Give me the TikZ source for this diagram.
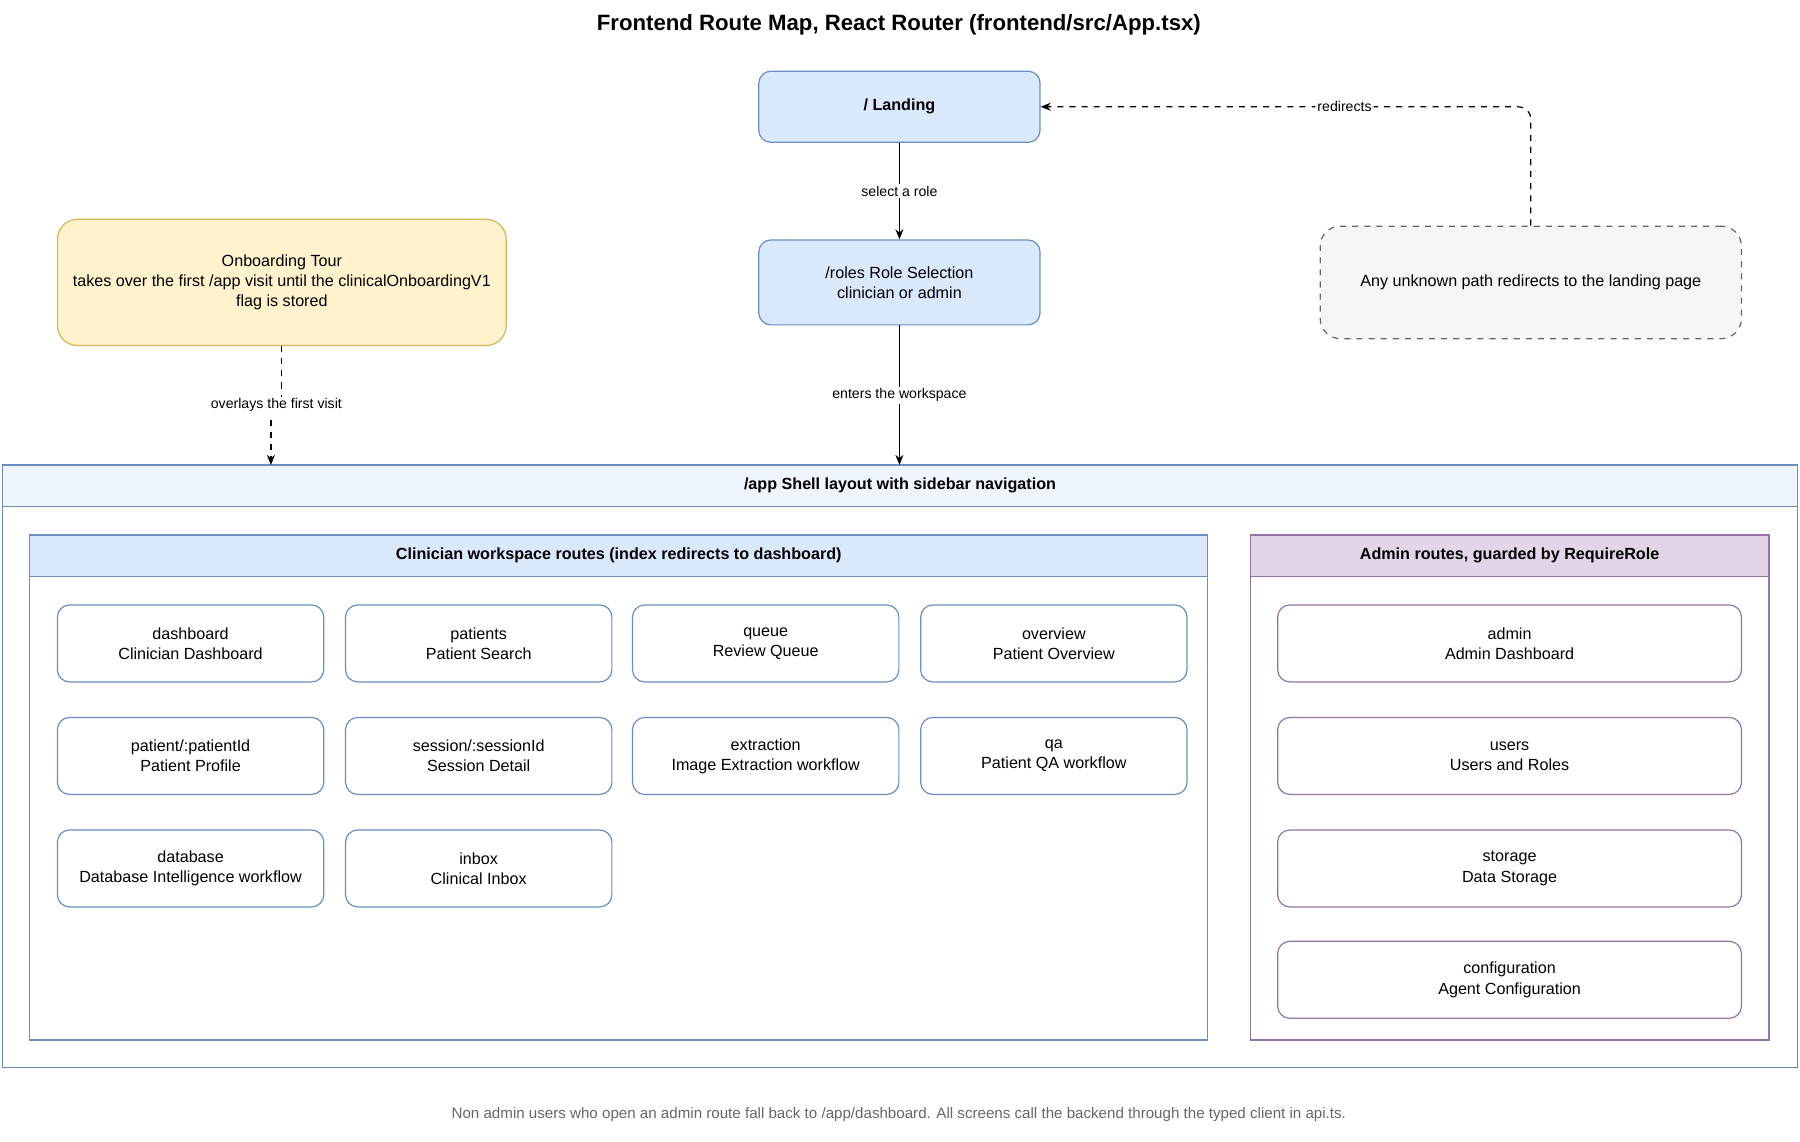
\documentclass[tikz,border=0pt]{standalone}
\usepackage{fontspec}
\setmainfont{Liberation Sans}
\usetikzlibrary{arrows.meta}
\definecolor{bf}{HTML}{DAE8FC}\definecolor{bs}{HTML}{6C8EBF}
\definecolor{pf}{HTML}{E1D5E7}\definecolor{ps}{HTML}{9673A6}
\definecolor{yf}{HTML}{FFF2CC}\definecolor{ys}{HTML}{D6B656}
\definecolor{gf}{HTML}{F5F5F5}\definecolor{gs}{HTML}{666666}
\definecolor{lf}{HTML}{EEF5FD}
\tikzset{
 bx/.style={draw, rounded corners=6pt, align=center, font=\fontsize{8}{10}\selectfont, line width=0.6pt, inner sep=0pt},
 arr/.style={-{Stealth[length=5pt,width=4pt]}, line width=0.6pt},
 lbl/.style={fill=white, inner sep=1pt, font=\fontsize{7}{8}\selectfont},
 hdr/.style={font=\fontsize{8}{10}\selectfont\bfseries}
}
\newcommand{\rbox}[6]{% name, x1,y1,x2,y2, style+text
}
\begin{document}
\begin{tikzpicture}[x=0.02cm,y=-0.02cm]
\useasboundingbox (0,0) rectangle (1568,994);
\node[font=\fontsize{11}{13}\selectfont\bfseries] (title) at (783,22) {Frontend Route Map, React Router (frontend/src/App.tsx)};
% top nodes
\node[bx, fill=bf, draw=bs, minimum width=245*0.02cm, minimum height=62*0.02cm, font=\fontsize{8}{10}\selectfont\bfseries] (land) at (783.5,93) {/ Landing};
\node[bx, fill=bf, draw=bs, minimum width=245*0.02cm, minimum height=74*0.02cm] (roles) at (783.5,246) {/roles Role Selection\\clinician or admin};
\node[bx, fill=gf, draw=gs, dashed, rounded corners=10pt, minimum width=367*0.02cm, minimum height=98*0.02cm] (unk) at (1333.5,246) {Any unknown path redirects to the landing page};
\node[bx, fill=yf, draw=ys, rounded corners=10pt, minimum width=391*0.02cm, minimum height=110*0.02cm] (onb) at (245.5,246) {Onboarding Tour\\takes over the first /app visit until the clinicalOnboardingV1\\flag is stored};
% shell
\draw[bs, line width=0.6pt] (2,405) rectangle (1566,930);
\draw[bs, fill=lf, line width=0.6pt] (2,405) rectangle (1566,441);
\node[hdr] (shell) at (784,423) {/app Shell layout with sidebar navigation};
\coordinate (shelltop) at (783.5,405);
\coordinate (shellin) at (236,405);
% clinician
\draw[bs, line width=0.6pt] (26,466) rectangle (1052,906);
\draw[bs, fill=bf, line width=0.6pt] (26,466) rectangle (1052,502);
\node[hdr] (clin) at (539,484) {Clinician workspace routes (index redirects to dashboard)};
% admin
\draw[ps, line width=0.6pt] (1089,466) rectangle (1541,906);
\draw[ps, fill=pf, line width=0.6pt] (1089,466) rectangle (1541,502);
\node[hdr] (adm) at (1315,484) {Admin routes, guarded by RequireRole};
% clinician cards
\foreach \n/\x/\y/\t in {c1/166/560.5/{dashboard\\Clinician Dashboard},c2/417/560.5/{patients\\Patient Search},c3/667/560.5/{queue\\Review Queue},c4/918/560.5/{overview\\Patient Overview},
 c5/166/658.5/{patient/:patientId\\Patient Profile},c6/417/658.5/{session/:sessionId\\Session Detail},c7/667/658.5/{extraction\\Image Extraction workflow},c8/918/658.5/{qa\\Patient QA workflow},
 c9/166/756.5/{database\\Database Intelligence workflow},c10/417/756.5/{inbox\\Clinical Inbox}}
 \node[bx, fill=white, draw=bs, minimum width=232*0.02cm, minimum height=67*0.02cm] (\n) at (\x,\y) {\t};
\foreach \n/\y/\t in {a1/560.5/{admin\\Admin Dashboard},a2/658.5/{users\\Users and Roles},a3/756.5/{storage\\Data Storage},a4/853.5/{configuration\\Agent Configuration}}
 \node[bx, fill=white, draw=ps, minimum width=404*0.02cm, minimum height=67*0.02cm] (\n) at (1315,\y) {\t};
% edges
\draw[arr] (land) -- node[lbl]{select a role} (roles);
\draw[arr] (roles) -- node[lbl, pos=0.5]{enters the workspace} (shelltop);
\draw[arr, dashed] (onb.south) -- (245.5,353) -- node[lbl]{overlays the first visit} (236,353) -- (shellin);
\draw[arr, dashed, rounded corners=6pt] (unk.north) -- (1333.5,93) -- node[lbl, pos=0.38]{redirects} (land.east);
\node[text=gs, font=\fontsize{7.5}{9}\selectfont] (foot) at (783,971) {Non admin users who open an admin route fall back to /app/dashboard. All screens call the backend through the typed client in api.ts.};
\end{tikzpicture}
\end{document}
